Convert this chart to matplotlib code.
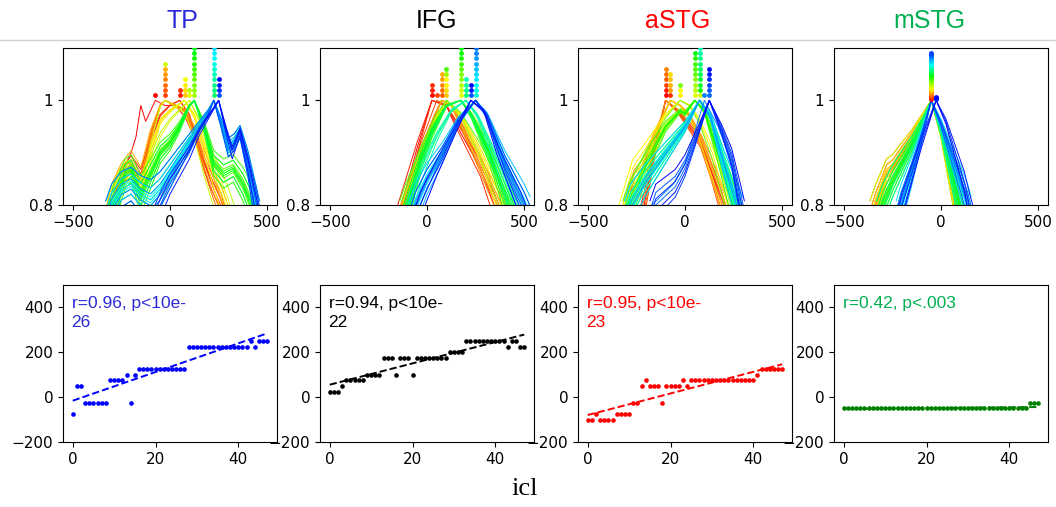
import numpy as np
import matplotlib
matplotlib.use("Agg")
import matplotlib.pyplot as plt
from matplotlib.colors import hsv_to_rgb

# regions, title colours, scatter colours
regions = ["TP", "IFG", "aSTG", "mSTG"]
title_colors = ["#2a2ad8", "#000000", "#ff0000", "#00b050"]
point_colors = ["#0000ff", "#000000", "#ff0000", "#008000"]
stat_colors = ["#2a2ad8", "#000000", "#ff0000", "#00b050"]
stat_texts = ["r=0.96, p<10e-\n26", "r=0.94, p<10e-\n22",
              "r=0.95, p<10e-\n23", "r=0.42, p<.003"]

# peak latency (ms) of each of the 48 curves
TP_peaks = ([-75, 50, 50] + [-25] * 6 + [75] * 4 + [100, -25, 100]
            + [125] * 12 + [225] * 15 + [250, 225, 250, 250, 250])
IFG_peaks = ([25] * 3 + [50] + [75] * 5 + [100] * 4 + [175] * 3 + [100]
             + [175] * 3 + [100] + [175] * 8 + [200] * 4 + [250] * 10
             + [225, 250, 250, 225, 225])
aSTG_peaks = ([-100, -100, -75] + [-100] * 4 + [-75] * 4 + [-25] * 2
              + [50, 75] + [50] * 3 + [-25] + [50] * 4 + [75, 50]
              + [75] * 16 + [100] + [125] * 6)
mSTG_peaks = [-50] * 45 + [-25] * 3

# typical normalised curve shapes (lag ms, value) read off the top row
TP_shapes = {
    -75: ([-330, -300, -250, -200, -175, -150, -125, -100, -75, -25, 25, 75, 125, 175, 225, 275, 300],
          [0.74, 0.80, 0.86, 0.90, 0.93, 0.99, 0.96, 0.98, 1.0, 0.99, 0.99, 0.97, 0.93, 0.88, 0.84, 0.80, 0.76]),
    50: ([-330, -300, -250, -200, -150, -100, -50, 0, 50, 100, 150, 200, 250, 280],
         [0.74, 0.80, 0.85, 0.88, 0.85, 0.92, 0.97, 0.99, 1.0, 0.97, 0.90, 0.84, 0.80, 0.76]),
    -25: ([-330, -300, -250, -200, -150, -100, -50, -25, 25, 75, 125, 175, 225, 260, 290],
          [0.74, 0.80, 0.85, 0.88, 0.84, 0.93, 0.99, 1.0, 0.99, 0.98, 0.94, 0.88, 0.83, 0.80, 0.76]),
    75: ([-340, -310, -260, -220, -150, -100, -50, 0, 75, 125, 175, 225, 275, 300],
         [0.74, 0.80, 0.85, 0.87, 0.83, 0.90, 0.96, 0.98, 1.0, 0.97, 0.91, 0.85, 0.80, 0.77]),
    100: ([-330, -300, -250, -210, -150, -100, -50, 0, 50, 100, 150, 200, 250, 300, 340],
          [0.74, 0.80, 0.85, 0.87, 0.83, 0.88, 0.93, 0.96, 0.98, 1.0, 0.96, 0.90, 0.86, 0.81, 0.76]),
    125: ([-320, -290, -230, -200, -150, -100, -50, 0, 50, 100, 125, 175, 225, 275, 325, 375, 420, 440],
          [0.74, 0.80, 0.86, 0.87, 0.82, 0.86, 0.90, 0.92, 0.95, 0.99, 1.0, 0.95, 0.88, 0.86, 0.87, 0.84, 0.80, 0.77]),
    225: ([-330, -300, -250, -200, -150, -100, -50, 0, 50, 100, 150, 200, 225, 260, 300, 330, 360, 400, 440, 460],
          [0.76, 0.80, 0.83, 0.84, 0.82, 0.81, 0.83, 0.86, 0.89, 0.92, 0.95, 0.98, 1.0, 0.96, 0.91, 0.92, 0.94, 0.88, 0.80, 0.76]),
    250: ([-90, -50, 0, 50, 100, 150, 200, 250, 290, 320, 360, 400, 445, 465],
          [0.76, 0.80, 0.84, 0.87, 0.90, 0.94, 0.97, 1.0, 0.94, 0.90, 0.94, 0.88, 0.80, 0.76]),
}
IFG_shapes = {
    25: ([-160, -130, -50, 25, 100, 140, 200, 275, 345, 380],
         [0.76, 0.80, 0.91, 1.0, 0.99, 0.96, 0.92, 0.87, 0.80, 0.76]),
    50: ([-150, -120, -40, 50, 100, 170, 260, 360, 400],
         [0.76, 0.80, 0.91, 1.0, 0.99, 0.95, 0.88, 0.80, 0.77]),
    75: ([-145, -115, -30, 40, 75, 125, 180, 270, 370, 410],
         [0.76, 0.80, 0.90, 0.97, 1.0, 0.99, 0.95, 0.88, 0.80, 0.77]),
    100: ([-140, -110, -30, 40, 100, 175, 270, 380, 420],
          [0.76, 0.80, 0.89, 0.96, 1.0, 0.97, 0.90, 0.80, 0.76]),
    175: ([-130, -100, -30, 25, 100, 175, 230, 320, 420, 460],
          [0.76, 0.80, 0.89, 0.94, 0.99, 1.0, 0.97, 0.90, 0.80, 0.76]),
    200: ([-120, -90, -20, 50, 125, 200, 260, 340, 440, 470],
          [0.76, 0.80, 0.87, 0.93, 0.98, 1.0, 0.97, 0.90, 0.80, 0.77]),
    225: ([-65, -35, 52, 155, 225, 293, 362, 448, 483, 510],
          [0.76, 0.80, 0.873, 0.95, 1.0, 0.98, 0.905, 0.829, 0.80, 0.77]),
    250: ([-90, -60, 0, 80, 160, 250, 310, 400, 500, 530],
          [0.76, 0.80, 0.85, 0.90, 0.96, 1.0, 0.97, 0.88, 0.80, 0.77]),
}
aSTG_shapes = {
    -100: ([-235, -210, -155, -100, -40, 0, 40, 80, 130, 190, 215],
           [0.76, 0.80, 0.905, 1.0, 0.98, 0.96, 0.94, 0.92, 0.87, 0.80, 0.76]),
    -75: ([-330, -300, -260, -220, -150, -75, -25, 25, 75, 130, 200, 225],
          [0.76, 0.80, 0.85, 0.87, 0.94, 1.0, 0.99, 0.97, 0.93, 0.87, 0.80, 0.77]),
    -25: ([-350, -320, -270, -200, -100, -25, 25, 75, 140, 220, 245],
          [0.76, 0.80, 0.87, 0.91, 0.97, 1.0, 0.99, 0.96, 0.90, 0.80, 0.77]),
    50: ([-320, -290, -200, -100, -25, 0, 50, 100, 170, 250, 275],
         [0.76, 0.80, 0.88, 0.95, 0.98, 0.975, 1.0, 0.98, 0.90, 0.80, 0.77]),
    75: ([-310, -280, -200, -100, 0, 75, 130, 200, 270, 295],
         [0.76, 0.80, 0.85, 0.90, 0.95, 1.0, 0.97, 0.88, 0.80, 0.77]),
    100: ([-200, -170, -60, 0, 50, 100, 170, 230, 280, 300],
          [0.76, 0.80, 0.84, 0.88, 0.94, 1.0, 0.95, 0.89, 0.80, 0.76]),
    125: ([-180, -150, -50, 0, 50, 125, 190, 240, 285, 305],
          [0.76, 0.80, 0.835, 0.87, 0.92, 1.0, 0.94, 0.885, 0.80, 0.76]),
}
mSTG_shapes = {
    "warm": ([-365, -335, -280, -250, -200, -150, -100, -50, 0, 40, 80, 100],
             [0.76, 0.80, 0.86, 0.87, 0.90, 0.93, 0.965, 1.0, 0.94, 0.87, 0.80, 0.77]),
    "green": ([-330, -300, -250, -200, -150, -100, -50, 0, 50, 95, 115],
              [0.76, 0.80, 0.845, 0.88, 0.915, 0.955, 1.0, 0.945, 0.87, 0.80, 0.77]),
    "blue": ([-230, -205, -150, -100, -50, 0, 50, 100, 137, 155],
             [0.76, 0.80, 0.865, 0.93, 1.0, 0.955, 0.90, 0.845, 0.80, 0.77]),
    "late": ([-225, -200, -150, -100, -25, 25, 75, 120, 145, 165],
             [0.76, 0.80, 0.86, 0.92, 1.0, 0.96, 0.90, 0.845, 0.80, 0.77]),
}
mSTG_shape_of = ["warm"] * 16 + ["green"] * 16 + ["blue"] * 13 + ["late"] * 3

# how far each curve in a bundle dips relative to its typical shape
spread = [1.0, 0.88, 1.12, 0.94, 1.06, 0.8, 1.2, 0.97, 1.03]

all_peaks = [TP_peaks, IFG_peaks, aSTG_peaks, mSTG_peaks]
all_shapes = [TP_shapes, IFG_shapes, aSTG_shapes, mSTG_shapes]
all_shape_of = [None, None, None, mSTG_shape_of]
dot_step = [0.01, 0.01, 0.01, 0.002]

W, H = 1056, 507
fig = plt.figure(figsize=(W / 100, H / 100), dpi=100)

lefts = [63, 320, 578, 834]
aw, ah = 214, 157
title_x = [182, 436, 678, 929]

n = 48
idx = np.arange(n)
cols = [hsv_to_rgb((0.667 * i / (n - 1), 1, 1)) for i in range(n)]

for k, reg in enumerate(regions):
    peaks = all_peaks[k]
    shapes = all_shapes[k]
    shape_of = all_shape_of[k]

    # top row: normalised curves + peak markers
    ax = fig.add_axes([lefts[k] / W, 1 - 205 / H, aw / W, ah / H])
    seen = {}
    stack = {}
    for i in range(n):
        key = shape_of[i] if shape_of else peaks[i]
        j = seen.get(key, 0)
        seen[key] = j + 1
        xs, ys = shapes[key]
        ys = 1 - (1 - np.array(ys)) * spread[j % len(spread)]
        ax.plot(xs, ys, color=cols[i], lw=0.7)
    for i in range(n):
        c = stack.get(peaks[i], 0) + 1
        stack[peaks[i]] = c
        ax.scatter(peaks[i], 1 + dot_step[k] * c, s=12, color=cols[i],
                   linewidths=0, zorder=3)
    ax.set_xlim(-550, 550)
    ax.set_ylim(0.8, 1.1)
    ax.set_xticks([-500, 0, 500])
    ax.set_yticks([0.8, 1.0])
    ax.set_yticklabels(["0.8", "1"])
    ax.tick_params(labelsize=11)

    # bottom row: peak latency vs curve index
    bx = fig.add_axes([lefts[k] / W, 1 - 442 / H, aw / W, ah / H])
    bx.scatter(idx, peaks, s=11, color=point_colors[k], linewidths=0, zorder=3)
    slope, icpt = np.polyfit(idx, peaks, 1)
    bx.plot(idx, slope * idx + icpt, "--", color=point_colors[k], lw=1.4)
    bx.set_ylim(-200, 500)
    bx.set_yticks([-200, 0, 200, 400])
    bx.set_xticks([0, 20, 40])
    bx.tick_params(labelsize=11)
    bx.text(0.04, 0.93, stat_texts[k], transform=bx.transAxes, va="top",
            ha="left", fontsize=12.5, color=stat_colors[k],
            family="Liberation Sans", linespacing=1.3)

    fig.text(title_x[k] / W, 1 - 21 / H, reg, ha="center", va="center",
             fontsize=18, color=title_colors[k], family="Liberation Sans")

fig.add_artist(plt.Line2D([0, 1], [1 - 40 / H, 1 - 40 / H],
                          transform=fig.transFigure, color="#d0d0d0", lw=1))
fig.text(525 / W, 1 - 489 / H, "icl", ha="center", va="center",
         fontsize=19, family="Liberation Serif")

fig.savefig("out.png", dpi=100)
